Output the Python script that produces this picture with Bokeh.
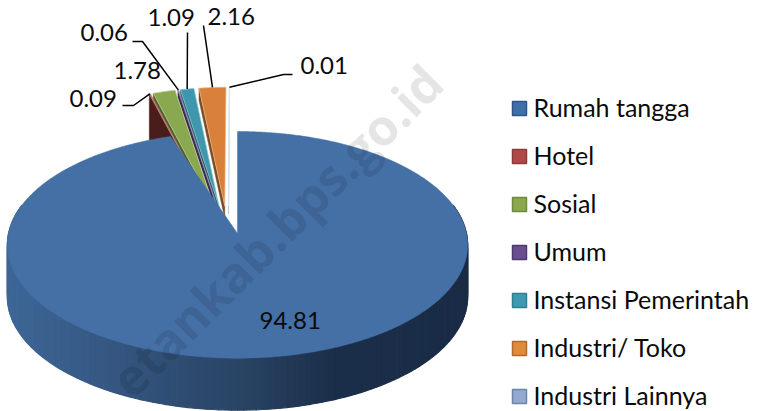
import math
from bokeh.plotting import figure
from bokeh.models import Range1d
from bokeh.embed import file_html
from bokeh.resources import INLINE

categories = ["Rumah tangga", "Hotel", "Sosial", "Umum", "Instansi Pemerintah", "Industri/ Toko", "Industri Lainnya"]
values = [94.81, 0.09, 1.78, 0.06, 1.09, 2.16, 0.01]

top_colors = ["#4470a6", "#a8403c", "#8aa84f", "#5e4a82", "#3f97ae", "#d9813a", "#c9d6e8"]
wall_colors = ["#2a4668", "#4a1d1a", "#4e6128", "#3a2c52", "#215968", "#7a4a22", "#9fb2cc"]
wall_drops = [52, 46, 8, 8, 10, 12, 8]
swatch_fill = ["#3f6fa8", "#b04a48", "#8aa84d", "#6a4f90", "#3f9ab0", "#e08a3c", "#93a9cf"]
swatch_line = ["#2f5487", "#8e3a38", "#6f8a3c", "#4f3a6f", "#2f7f90", "#b06a2a", "#6c84a8"]
FONT = "Lato"

CX, CY, A, B, K, DEPTH = 237.0, 233.0, 229.0, 112.2, 0.10, 52.0
EXPLODE_U, EXPLODE_V, STRETCH_V, SHIFT_U = 0.25, 0.25, 1.25, -0.04

def proj(u, v):
    s = 1.0 / (1.0 + K * v)
    return CX + A * u * s, CY - B * v * s

def disc(theta):
    t = math.radians(theta)
    return math.sin(t), math.cos(t)

def mix(c1, c2, f):
    a = [int(c1[i:i + 2], 16) for i in (1, 3, 5)]
    b = [int(c2[i:i + 2], 16) for i in (1, 3, 5)]
    return "#%02x%02x%02x" % tuple(round(x + (y - x) * f) for x, y in zip(a, b))

def side_color(x):
    stops = [(5, "#3e6797"), (120, "#34557f"), (240, "#294464"), (335, "#1b2e49"), (470, "#1a2c45")]
    for (x0, c0), (x1, c1) in zip(stops, stops[1:]):
        if x <= x1:
            return mix(c0, c1, max(0, (x - x0) / (x1 - x0)))
    return stops[-1][1]

p = figure(width=758, height=411, output_backend="svg", toolbar_location=None,
           x_range=Range1d(0, 758), y_range=Range1d(411, 0), min_border=0)
p.axis.visible = False
p.grid.visible = False
p.outline_line_color = None
p.background_fill_color = "white"

total = sum(values)
edges = [0.0]
for v in values:
    edges.append(edges[-1] + v / total * 360.0)

# exploded slices, right to left
outer_mid = {}
for i in range(len(values) - 1, 0, -1):
    a0, a1 = edges[i], edges[i + 1]
    mid = (a0 + a1) / 2
    su, cv = disc(mid)
    u0, v0 = SHIFT_U + EXPLODE_U * su, EXPLODE_V * cv

    def outer(th):
        s, c = disc(th)
        return proj(u0 + s, v0 + STRETCH_V * c)

    n = max(2, int((a1 - a0) * 2) + 2)
    arc = [outer(a0 + (a1 - a0) * j / (n - 1)) for j in range(n)]
    apex = proj(u0, v0)
    outer_mid[i] = outer(mid)
    ax, ay = arc[0]
    d = wall_drops[i]
    p.patch([ax, apex[0], apex[0], ax], [ay, apex[1], apex[1] + d, ay + d],
            fill_color=wall_colors[i], line_color=wall_colors[i], line_width=0.5)
    xs = [apex[0]] + [q[0] for q in arc]
    ys = [apex[1]] + [q[1] for q in arc]
    p.patch(xs, ys, fill_color=top_colors[i], line_color=mix(top_colors[i], "#ffffff", 0.45), line_width=0.7)

# main slice: side strip then top
N = 150
prev = None
for j in range(N + 1):
    th = 75 + 210 * j / N
    q = proj(*disc(th))
    if prev is not None:
        col = side_color((q[0] + prev[0]) / 2)
        p.patch([prev[0], q[0], q[0], prev[0]], [prev[1], q[1], q[1] + DEPTH, prev[1] + DEPTH],
                fill_color=col, line_color=col, line_width=1.2)
    prev = q

n = 720
rim = [proj(*disc(edges[0] + (edges[1] - edges[0]) * j / (n - 1))) for j in range(n)]
p.patch([CX] + [q[0] for q in rim], [CY] + [q[1] for q in rim],
        fill_color=top_colors[0], line_color=top_colors[0], line_width=0.5)

# leader lines and labels
label_layout = {
    0: dict(x=259, y=320),
    1: dict(x=69, y=98, elbow=[(122, 105), (133, 105)]),
    2: dict(x=113, y=70),
    3: dict(x=80, y=32, elbow=[(132, 41), (142, 41)]),
    4: dict(x=147, y=17, elbow=[(187, 32)]),
    5: dict(x=207, y=16, elbow=[(203, 25)]),
    6: dict(x=300, y=65, elbow=[(292, 74), (283, 74)]),
}
for i, v in enumerate(values):
    lay = label_layout[i]
    if "elbow" in lay:
        pts = lay["elbow"] + [outer_mid[i]]
        p.line([q[0] for q in pts], [q[1] for q in pts], line_color="black", line_width=1.5)
    p.text([lay["x"]], [lay["y"]], text=[f"{v:g}"], text_font_size="24px", text_font=dict(value=FONT),
           text_baseline="middle", text_align="left", text_color="#0a0a0a")

# watermark (its first letter runs off the reference's lower edge; the readable part is kept)
p.text([433], [73], text=["etankab.bps.go.id"], angle=[math.radians(45)], text_font_size="50px",
       text_font=dict(value="Open Sans"), text_font_style="bold", text_align="right", text_baseline="middle",
       text_color="#000000", text_alpha=0.10)

# legend
LEG_X, LEG_Y0, LEG_DY = 519, 108, 48
for i, (c, f, l) in enumerate(zip(categories, swatch_fill, swatch_line)):
    yy = LEG_Y0 + i * LEG_DY
    p.rect([LEG_X], [yy], width=14, height=14, fill_color=f, line_color=l, line_width=1.5)
    p.text([533], [yy - 2], text=[c], text_font_size="25px", text_font=dict(value=FONT),
           text_baseline="middle", text_align="left", text_color="#0a0a0a")

open("out.html", "w").write(file_html(p, INLINE))
